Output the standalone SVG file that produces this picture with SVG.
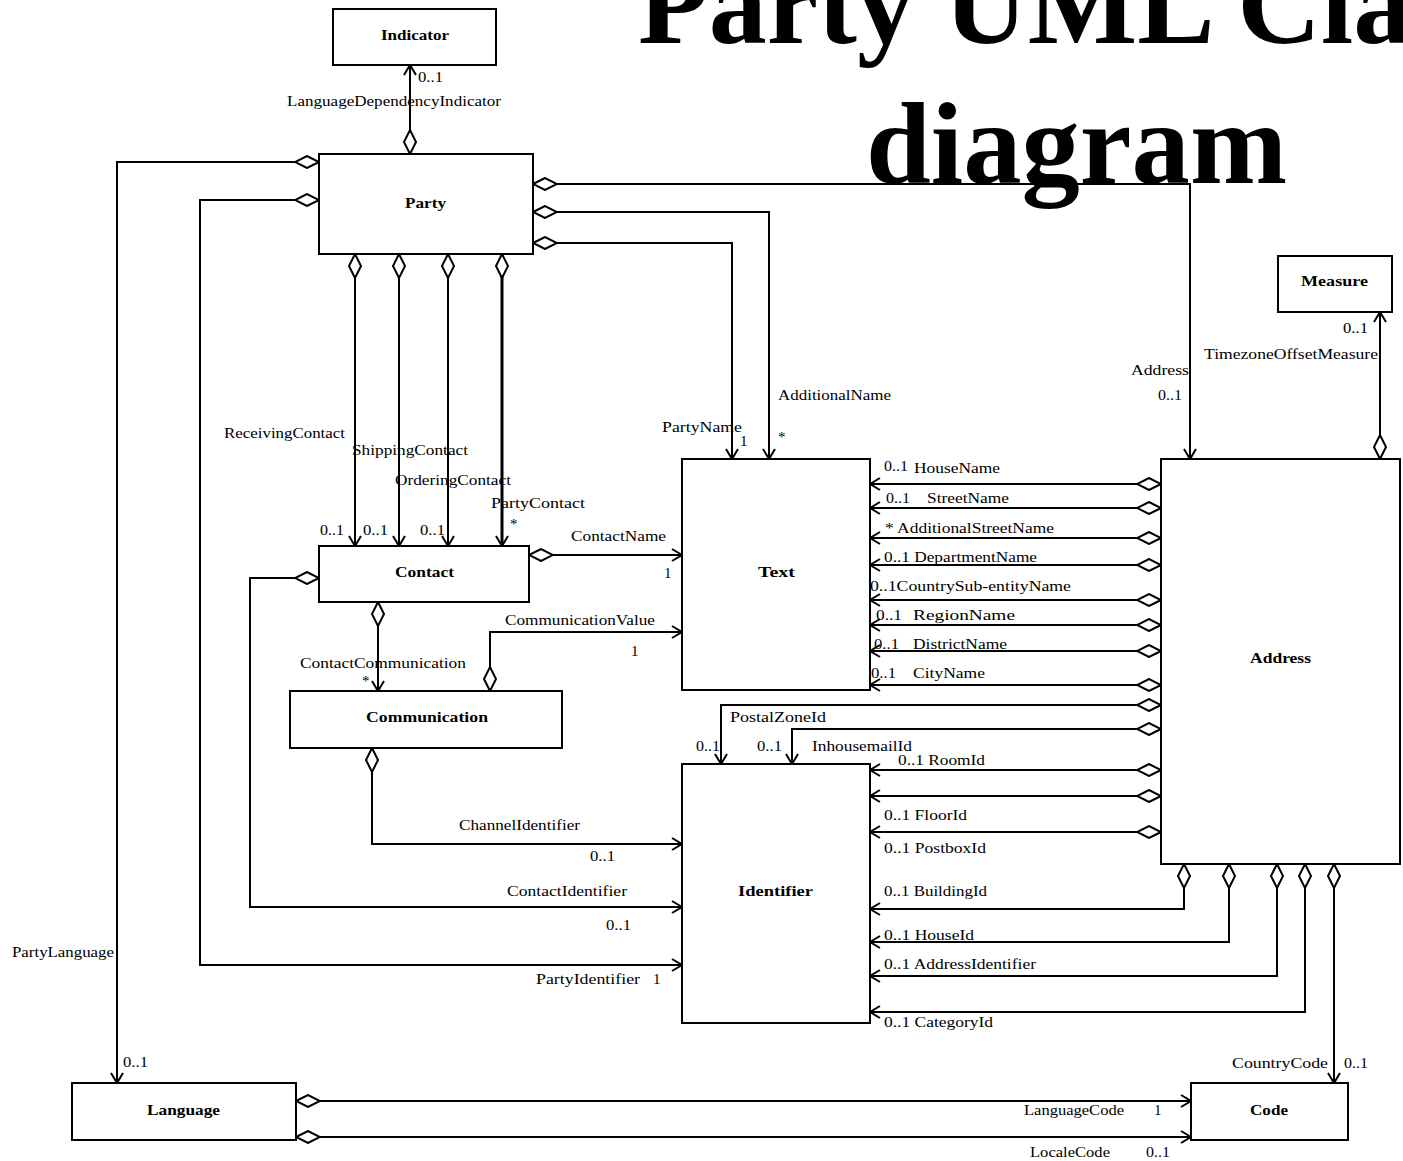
<svg xmlns="http://www.w3.org/2000/svg" width="1403" height="1161" viewBox="0 0 1403 1161">
<style>
.box{fill:#fff;stroke:#000;stroke-width:2}
.n{font-family:"Liberation Serif",serif;font-size:15px;font-weight:bold;fill:#000}
.l{font-family:"Liberation Serif",serif;font-size:15px;fill:#000}
.c{fill:none;stroke:#000;stroke-width:2;marker-start:url(#dia);marker-end:url(#arr)}
.t{font-family:"Liberation Serif",serif;font-size:116px;font-weight:bold;fill:#000}
</style>
<defs>
<marker id="dia" markerWidth="26" markerHeight="14" refX="1" refY="7" orient="auto" markerUnits="userSpaceOnUse" viewBox="0 0 26 14"><path d="M1,7 L13,1 L25,7 L13,13 Z" fill="#fff" stroke="#000" stroke-width="2"/></marker>
<marker id="arr" markerWidth="14" markerHeight="16" refX="12" refY="8" orient="auto" markerUnits="userSpaceOnUse" viewBox="0 0 14 16"><path d="M2,2 L12,8 L2,14" fill="none" stroke="#000" stroke-width="2"/></marker>
</defs>
<rect width="1403" height="1161" fill="#fff"/>

<g id="connectors">
<path class="c" d="M410,154 L410,65"/>
<path class="c" d="M319,162 L117,162 L117,1083"/>
<path class="c" d="M319,200 L200,200 L200,965 L682,965"/>
<path class="c" d="M533,184 L1190,184 L1190,459"/>
<path class="c" d="M533,212 L769,212 L769,459"/>
<path class="c" d="M533,243 L732,243 L732,459"/>
<path class="c" d="M355,254 L355,546"/>
<path class="c" d="M399,254 L399,546"/>
<path class="c" d="M448,254 L448,546"/>
<path class="c" d="M502,254 L502,546" style="stroke-width:3"/>
<path class="c" d="M529,555 L682,555"/>
<path class="c" d="M319,578 L250,578 L250,907 L682,907"/>
<path class="c" d="M378,602 L378,691"/>
<path class="c" d="M490,691 L490,632 L682,632"/>
<path class="c" d="M372,748 L372,844 L682,844"/>
<path class="c" d="M1380,459 L1380,312"/>
<path class="c" d="M1161,484 L870,484"/>
<path class="c" d="M1161,508 L870,508"/>
<path class="c" d="M1161,538 L870,538"/>
<path class="c" d="M1161,565 L870,565"/>
<path class="c" d="M1161,600 L870,600"/>
<path class="c" d="M1161,625 L870,625"/>
<path class="c" d="M1161,651 L870,651"/>
<path class="c" d="M1161,685 L870,685"/>
<path class="c" d="M1161,705 L721,705 L721,764"/>
<path class="c" d="M1161,729 L792,729 L792,764"/>
<path class="c" d="M1161,770 L870,770"/>
<path class="c" d="M1161,796 L870,796"/>
<path class="c" d="M1161,832 L870,832"/>
<path class="c" d="M1184,864 L1184,909 L870,909"/>
<path class="c" d="M1229,864 L1229,942 L870,942"/>
<path class="c" d="M1277,864 L1277,976 L870,976"/>
<path class="c" d="M1305,864 L1305,1012 L870,1012"/>
<path class="c" d="M1334,864 L1334,1083"/>
<path class="c" d="M296,1101 L1191,1101"/>
<path class="c" d="M296,1137 L1191,1137"/>
</g>

<g id="labels">
<text class="l" x="418" y="82" textLength="25" lengthAdjust="spacingAndGlyphs">0..1</text>
<text class="l" x="287" y="106" textLength="214" lengthAdjust="spacingAndGlyphs">LanguageDependencyIndicator</text>
<text class="l" x="12" y="957" textLength="102" lengthAdjust="spacingAndGlyphs">PartyLanguage</text>
<text class="l" x="123" y="1067" textLength="25" lengthAdjust="spacingAndGlyphs">0..1</text>
<text class="l" x="1131" y="375" textLength="58" lengthAdjust="spacingAndGlyphs">Address</text>
<text class="l" x="1158" y="400" textLength="24" lengthAdjust="spacingAndGlyphs">0..1</text>
<text class="l" x="778" y="400" textLength="113" lengthAdjust="spacingAndGlyphs">AdditionalName</text>
<text class="l" x="778" y="442">*</text>
<text class="l" x="662" y="432" textLength="80" lengthAdjust="spacingAndGlyphs">PartyName</text>
<text class="l" x="740" y="446">1</text>
<text class="l" x="224" y="438" textLength="121" lengthAdjust="spacingAndGlyphs">ReceivingContact</text>
<text class="l" x="352" y="455" textLength="116" lengthAdjust="spacingAndGlyphs">ShippingContact</text>
<text class="l" x="395" y="485" textLength="116" lengthAdjust="spacingAndGlyphs">OrderingContact</text>
<text class="l" x="491" y="508" textLength="94" lengthAdjust="spacingAndGlyphs">PartyContact</text>
<text class="l" x="320" y="535" textLength="24" lengthAdjust="spacingAndGlyphs">0..1</text>
<text class="l" x="363" y="535" textLength="25" lengthAdjust="spacingAndGlyphs">0..1</text>
<text class="l" x="420" y="535" textLength="25" lengthAdjust="spacingAndGlyphs">0..1</text>
<text class="l" x="510" y="529">*</text>
<text class="l" x="571" y="541" textLength="95" lengthAdjust="spacingAndGlyphs">ContactName</text>
<text class="l" x="664" y="578">1</text>
<text class="l" x="505" y="625" textLength="150" lengthAdjust="spacingAndGlyphs">CommunicationValue</text>
<text class="l" x="631" y="656">1</text>
<text class="l" x="300" y="668" textLength="166" lengthAdjust="spacingAndGlyphs">ContactCommunication</text>
<text class="l" x="362" y="686">*</text>
<text class="l" x="459" y="830" textLength="121" lengthAdjust="spacingAndGlyphs">ChannelIdentifier</text>
<text class="l" x="590" y="861" textLength="25" lengthAdjust="spacingAndGlyphs">0..1</text>
<text class="l" x="507" y="896" textLength="120" lengthAdjust="spacingAndGlyphs">ContactIdentifier</text>
<text class="l" x="606" y="930" textLength="25" lengthAdjust="spacingAndGlyphs">0..1</text>
<text class="l" x="536" y="984" textLength="104" lengthAdjust="spacingAndGlyphs">PartyIdentifier</text>
<text class="l" x="653" y="984">1</text>
<text class="l" x="884" y="471" textLength="24" lengthAdjust="spacingAndGlyphs">0..1</text>
<text class="l" x="914" y="473" textLength="86" lengthAdjust="spacingAndGlyphs">HouseName</text>
<text class="l" x="886" y="503" textLength="24" lengthAdjust="spacingAndGlyphs">0..1</text>
<text class="l" x="927" y="503" textLength="82" lengthAdjust="spacingAndGlyphs">StreetName</text>
<text class="l" x="885" y="533" textLength="169" lengthAdjust="spacingAndGlyphs">* AdditionalStreetName</text>
<text class="l" x="884" y="562" textLength="153" lengthAdjust="spacingAndGlyphs">0..1 DepartmentName</text>
<text class="l" x="870" y="591" textLength="201" lengthAdjust="spacingAndGlyphs">0..1CountrySub-entityName</text>
<text class="l" x="876" y="620" textLength="26" lengthAdjust="spacingAndGlyphs">0..1</text>
<text class="l" x="913" y="620" textLength="102" lengthAdjust="spacingAndGlyphs">RegionName</text>
<text class="l" x="874" y="649" textLength="25" lengthAdjust="spacingAndGlyphs">0..1</text>
<text class="l" x="913" y="649" textLength="94" lengthAdjust="spacingAndGlyphs">DistrictName</text>
<text class="l" x="871" y="678" textLength="25" lengthAdjust="spacingAndGlyphs">0..1</text>
<text class="l" x="913" y="678" textLength="72" lengthAdjust="spacingAndGlyphs">CityName</text>
<text class="l" x="730" y="722" textLength="96" lengthAdjust="spacingAndGlyphs">PostalZoneId</text>
<text class="l" x="696" y="751" textLength="24" lengthAdjust="spacingAndGlyphs">0..1</text>
<text class="l" x="757" y="751" textLength="25" lengthAdjust="spacingAndGlyphs">0..1</text>
<text class="l" x="812" y="751" textLength="100" lengthAdjust="spacingAndGlyphs">InhousemailId</text>
<text class="l" x="898" y="765" textLength="87" lengthAdjust="spacingAndGlyphs">0..1 RoomId</text>
<text class="l" x="884" y="820" textLength="83" lengthAdjust="spacingAndGlyphs">0..1 FloorId</text>
<text class="l" x="884" y="853" textLength="102" lengthAdjust="spacingAndGlyphs">0..1 PostboxId</text>
<text class="l" x="884" y="896" textLength="103" lengthAdjust="spacingAndGlyphs">0..1 BuildingId</text>
<text class="l" x="884" y="940" textLength="90" lengthAdjust="spacingAndGlyphs">0..1 HouseId</text>
<text class="l" x="884" y="969" textLength="152" lengthAdjust="spacingAndGlyphs">0..1 AddressIdentifier</text>
<text class="l" x="884" y="1027" textLength="109" lengthAdjust="spacingAndGlyphs">0..1 CategoryId</text>
<text class="l" x="1232" y="1068" textLength="96" lengthAdjust="spacingAndGlyphs">CountryCode</text>
<text class="l" x="1344" y="1068" textLength="24" lengthAdjust="spacingAndGlyphs">0..1</text>
<text class="l" x="1343" y="333" textLength="25" lengthAdjust="spacingAndGlyphs">0..1</text>
<text class="l" x="1204" y="359" textLength="174" lengthAdjust="spacingAndGlyphs">TimezoneOffsetMeasure</text>
<text class="l" x="1024" y="1115" textLength="100" lengthAdjust="spacingAndGlyphs">LanguageCode</text>
<text class="l" x="1154" y="1115">1</text>
<text class="l" x="1030" y="1157" textLength="80" lengthAdjust="spacingAndGlyphs">LocaleCode</text>
<text class="l" x="1146" y="1157" textLength="24" lengthAdjust="spacingAndGlyphs">0..1</text>
</g>

<g id="Indicator"><rect class="box" x="333" y="9" width="163" height="56"/><text class="n" x="381" y="40" textLength="68" lengthAdjust="spacingAndGlyphs">Indicator</text></g>
<g id="Party"><rect class="box" x="319" y="154" width="214" height="100"/><text class="n" x="405" y="208" textLength="41" lengthAdjust="spacingAndGlyphs">Party</text></g>
<g id="Contact"><rect class="box" x="319" y="546" width="210" height="56"/><text class="n" x="395" y="577" textLength="59" lengthAdjust="spacingAndGlyphs">Contact</text></g>
<g id="Communication"><rect class="box" x="290" y="691" width="272" height="57"/><text class="n" x="366" y="722" textLength="122" lengthAdjust="spacingAndGlyphs">Communication</text></g>
<g id="Text"><rect class="box" x="682" y="459" width="188" height="231"/><text class="n" x="758" y="577" textLength="37" lengthAdjust="spacingAndGlyphs">Text</text></g>
<g id="Identifier"><rect class="box" x="682" y="764" width="188" height="259"/><text class="n" x="738" y="896" textLength="75" lengthAdjust="spacingAndGlyphs">Identifier</text></g>
<g id="Address"><rect class="box" x="1161" y="459" width="239" height="405"/><text class="n" x="1250" y="663" textLength="61" lengthAdjust="spacingAndGlyphs">Address</text></g>
<g id="Measure"><rect class="box" x="1278" y="256" width="114" height="56"/><text class="n" x="1301" y="286" textLength="67" lengthAdjust="spacingAndGlyphs">Measure</text></g>
<g id="Language"><rect class="box" x="72" y="1083" width="224" height="57"/><text class="n" x="147" y="1115" textLength="73" lengthAdjust="spacingAndGlyphs">Language</text></g>
<g id="Code"><rect class="box" x="1191" y="1083" width="157" height="57"/><text class="n" x="1250" y="1115" textLength="38" lengthAdjust="spacingAndGlyphs">Code</text></g>

<g id="title">
<text class="t" x="638" y="43">Party UML Class</text>
<text class="t" x="866" y="183" textLength="421" lengthAdjust="spacingAndGlyphs">diagram</text>
</g>
</svg>
